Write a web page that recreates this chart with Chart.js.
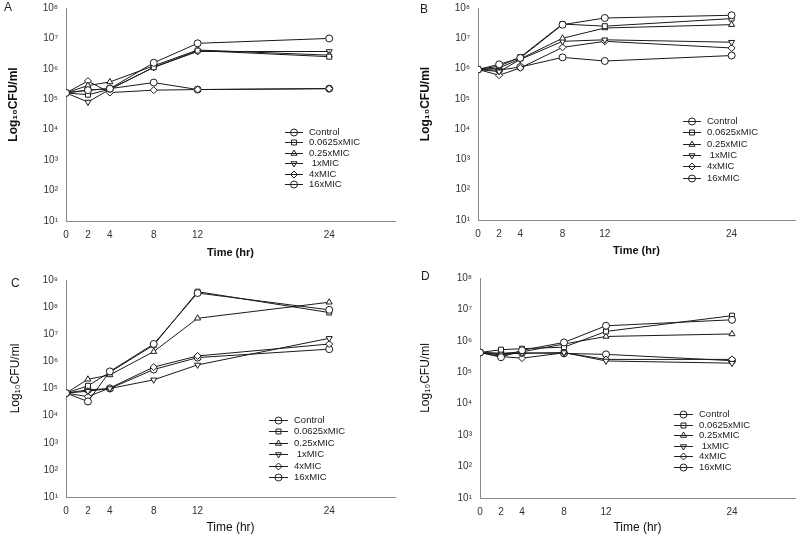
<!DOCTYPE html>
<html>
<head>
<meta charset="utf-8">
<script src="https://cdn.jsdelivr.net/npm/chart.js@4.4.1/dist/chart.umd.min.js"></script>
<style>
body{margin:0;background:#fff;width:800px;height:540px;position:relative;overflow:hidden;font-family:"Liberation Sans",Arial,sans-serif}
.panel{position:absolute;width:400px;height:270px}
.panel canvas{display:block}
.tag{position:absolute;font-size:12px;color:#222;line-height:12px}
</style>
</head>
<body>
<div class="panel" style="left:0;top:0"><canvas id="chartA" width="400" height="270"></canvas></div>
<div class="panel" style="left:400px;top:0"><canvas id="chartB" width="400" height="270"></canvas></div>
<div class="panel" style="left:0;top:270px"><canvas id="chartC" width="400" height="270"></canvas></div>
<div class="panel" style="left:400px;top:270px"><canvas id="chartD" width="400" height="270"></canvas></div>
<div class="tag" style="left:4px;top:1px">A</div>
<div class="tag" style="left:420px;top:3px">B</div>
<div class="tag" style="left:11px;top:277px">C</div>
<div class="tag" style="left:421px;top:270px">D</div>
<script>
// DATA (log10 CFU/ml)
const times = [0, 2, 4, 8, 12, 24];
const seriesNames = ['Control', '0.0625xMIC', '0.25xMIC', ' 1xMIC', '4xMIC', '16xMIC'];
const yTicksLow = [1, 2, 3, 4, 5, 6, 7, 8];
const yTicksHigh = [1, 2, 3, 4, 5, 6, 7, 8, 9];

const panelA = [
    [5.21, 5.30, 5.35, 6.20, 6.84, 7.00],
    [5.21, 5.15, 5.33, 6.05, 6.60, 6.40],
    [5.21, 5.45, 5.57, 6.10, 6.62, 6.45],
    [5.21, 4.91, 5.33, 6.05, 6.57, 6.57],
    [5.21, 5.60, 5.22, 5.30, 5.32, 5.35],
    [5.21, 5.30, 5.35, 5.55, 5.32, 5.35]
];
const panelB = [
    [5.97, 6.14, 6.35, 7.45, 7.67, 7.76],
    [5.97, 6.08, 6.38, 7.47, 7.40, 7.65],
    [5.97, 6.02, 6.32, 7.00, 7.34, 7.45],
    [5.97, 5.90, 6.30, 6.90, 6.95, 6.87],
    [5.97, 5.78, 6.02, 6.70, 6.90, 6.68],
    [5.97, 5.95, 6.05, 6.37, 6.25, 6.43]
];
const panelC = [
    [4.83, 4.52, 5.63, 6.64, 8.52, 7.90],
    [4.83, 5.10, 5.60, 6.60, 8.57, 7.80],
    [4.83, 5.34, 5.50, 6.36, 7.59, 8.18],
    [4.83, 4.90, 5.00, 5.32, 5.87, 6.85],
    [4.83, 4.70, 5.02, 5.79, 6.20, 6.64],
    [4.83, 4.95, 5.00, 5.70, 6.14, 6.45]
];
const panelD = [
    [5.63, 5.48, 5.70, 5.95, 6.48, 6.67],
    [5.63, 5.72, 5.75, 5.80, 6.30, 6.80],
    [5.63, 5.60, 5.65, 5.90, 6.14, 6.22],
    [5.63, 5.60, 5.60, 5.63, 5.36, 5.29],
    [5.63, 5.50, 5.45, 5.62, 5.41, 5.41],
    [5.63, 5.55, 5.62, 5.60, 5.57, 5.37]
];

// MARKERS
const markerStyles = ['circle', 'rect', 'triangle', 'triangle', 'rectRot', 'circle'];
const markerRotation = [0, 0, 0, 180, 0, 0];
const sup = {1: '\u00b9', 2: '\u00b2', 3: '\u00b3', 4: '\u2074', 5: '\u2075', 6: '\u2076', 7: '\u2077', 8: '\u2078', 9: '\u2079'};
const FONT = '"Liberation Sans", Arial, sans-serif';

// LEGEND: LINE + MARKER, DRAWN INSIDE THE PLOT
const lineLegend = {
    id: 'lineLegend',
    afterDatasetsDraw(chart, args, opts) {
        const ctx = chart.ctx;
        ctx.save();
        chart.data.datasets.forEach((ds, i) => {
            let y = Math.round(opts.y + i * opts.step) + 0.5;
            ctx.strokeStyle = '#222';
            ctx.lineWidth = 1;
            ctx.beginPath();
            ctx.moveTo(opts.x, y);
            ctx.lineTo(opts.x + opts.len, y);
            ctx.stroke();
            ctx.fillStyle = 'rgba(0,0,0,0)';
            Chart.helpers.drawPoint(ctx, {pointStyle: ds.pointStyle, rotation: ds.pointRotation, radius: 3.5, borderWidth: 1}, opts.x + opts.len / 2, y);
            ctx.fillStyle = '#222';
            ctx.font = '9.5px ' + FONT;
            ctx.textBaseline = 'middle';
            ctx.fillText(ds.label, opts.x + opts.len + 6, y);
        });
        ctx.restore();
    }
};

function makePanel(id, values, yTicks, box, legendPos, bold){
    const datasets = values.map((row, i) => ({
        label: seriesNames[i],
        data: times.map((t, j) => ({x: t, y: row[j]})),
        borderColor: '#1a1a1a',
        borderWidth: 1,
        pointStyle: markerStyles[i],
        pointRotation: markerRotation[i],
        pointRadius: 3.5,
        pointBorderWidth: 1,
        pointBorderColor: '#1a1a1a',
        pointBackgroundColor: '#fff',
        tension: 0
    }));
    const xTitleFont = {family: FONT, size: bold ? 11 : 12, weight: bold ? 'bold' : 'normal'};
    const yTitleFont = {family: FONT, size: 12, weight: bold ? 'bold' : 'normal'};
    new Chart(document.getElementById(id), {
        type: 'line',
        data: {datasets: datasets},
        plugins: [lineLegend],
        options: {
            responsive: false,
            animation: false,
            layout: {padding: {left: box.padLeft, top: box.top, right: 1, bottom: 0}},
            plugins: {
                legend: {display: false},
                tooltip: {enabled: false},
                lineLegend: legendPos
            },
            scales: {
                x: {
                    type: 'linear',
                    min: 0,
                    max: 30,
                    afterBuildTicks: s => { s.ticks = times.map(v => ({value: v})); },
                    afterFit: s => { s.height = 270 - box.bottom; },
                    grid: {display: false, drawTicks: true, tickLength: 6},
                    border: {display: true, color: '#888', width: 1},
                    ticks: {color: '#333', font: {family: FONT, size: 10}, padding: 2, maxRotation: 0},
                    title: {display: true, text: 'Time (hr)', color: '#111', font: xTitleFont, padding: {top: 0, bottom: box.xTitlePad}}
                },
                y: {
                    type: 'linear',
                    min: yTicks[0],
                    max: yTicks[yTicks.length - 1],
                    afterBuildTicks: s => { s.ticks = yTicks.map(v => ({value: v})); },
                    afterFit: s => { s.width = box.left - box.padLeft; },
                    grid: {display: false, drawTicks: true, tickLength: 6},
                    border: {display: true, color: '#888', width: 1},
                    ticks: {color: '#333', font: {family: FONT, size: 10}, padding: 2, callback: v => '10' + sup[v]},
                    // leading spaces lift the title a little above the centre, as in the figure
                    title: {display: true, text: '      Log\u2081\u2080CFU/ml', color: '#111', font: yTitleFont, padding: {top: 6, bottom: 0}}
                }
            }
        }
    });
}

makePanel('chartA', panelA, yTicksLow, {left: 66, padLeft: 0, top: 8, bottom: 221, xTitlePad: 10}, {x: 285, y: 132, step: 10.4, len: 18}, true);
makePanel('chartB', panelB, yTicksLow, {left: 78, padLeft: 12, top: 8, bottom: 220, xTitlePad: 12}, {x: 283, y: 121, step: 11.3, len: 18}, true);
makePanel('chartC', panelC, yTicksHigh, {left: 66, padLeft: 2, top: 10, bottom: 227, xTitlePad: 5}, {x: 269, y: 150, step: 11.4, len: 19}, false);
makePanel('chartD', panelD, yTicksLow, {left: 80, padLeft: 12, top: 8, bottom: 228, xTitlePad: 5}, {x: 274, y: 144, step: 10.6, len: 19}, false);
</script>
</body>
</html>
